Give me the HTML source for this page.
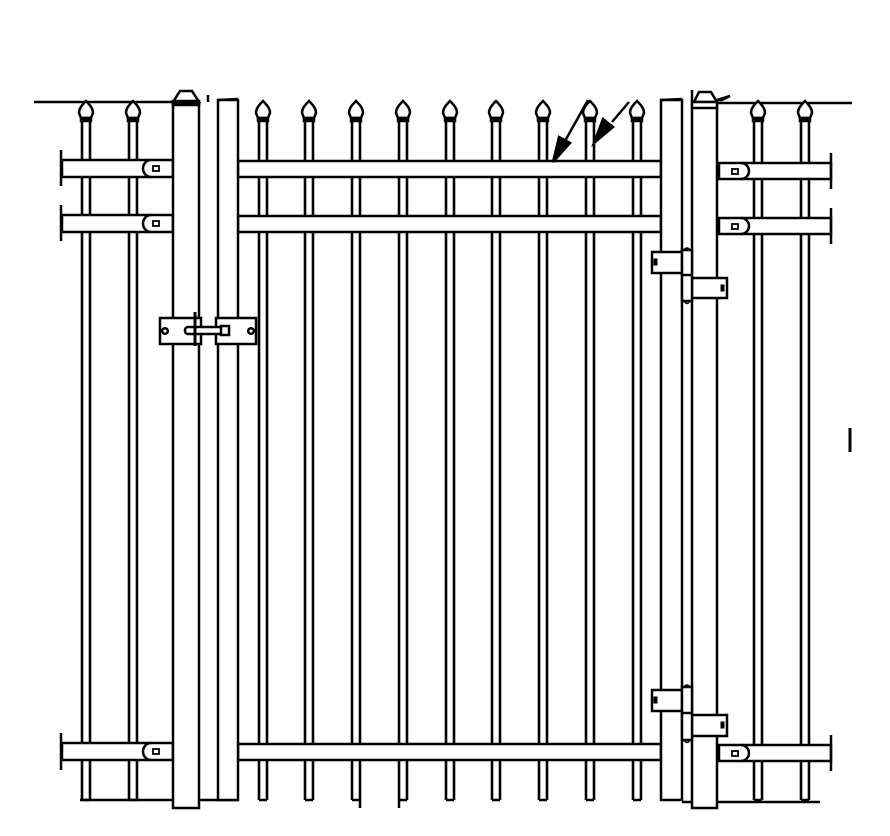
<!DOCTYPE html>
<html><head><meta charset="utf-8"><style>html,body{margin:0;padding:0;background:#fff}svg{display:block}</style></head>
<body>
<svg width="890" height="836" viewBox="0 0 890 836" xmlns="http://www.w3.org/2000/svg" fill="none" stroke="#000" stroke-width="2.5">
<defs>
<g id="pk"><line x1="-4" y1="120" x2="-4" y2="800" stroke-width="2.6"/><line x1="4" y1="120" x2="4" y2="800" stroke-width="2.6"/><line x1="-4" y1="800" x2="4" y2="800"/>
<path d="M0,101 C-5,106 -7,109 -7,113 L-5,118 L5,118 L7,113 C7,109 5,106 0,101 Z" fill="#fff"/><rect x="-5" y="118" width="10" height="3" fill="#000"/></g>
</defs>
<line x1="34" y1="102" x2="175" y2="102"/>
<line x1="717" y1="103" x2="852" y2="103"/>
<use href="#pk" x="86"/><use href="#pk" x="133"/>
<use href="#pk" x="263"/><use href="#pk" x="309"/><use href="#pk" x="356"/><use href="#pk" x="403"/><use href="#pk" x="450"/><use href="#pk" x="496"/><use href="#pk" x="543"/><use href="#pk" x="590"/><use href="#pk" x="637"/>
<use href="#pk" x="758"/><use href="#pk" x="805"/>
<line x1="80" y1="800" x2="238" y2="800"/>
<line x1="682" y1="802" x2="820" y2="802"/>
<line x1="360" y1="800" x2="360" y2="808"/><line x1="399" y1="800" x2="399" y2="808"/>
<g fill="#fff">
<rect x="62" y="160" width="111" height="17"/><rect x="62" y="215" width="111" height="17"/><rect x="62" y="743" width="111" height="17"/>
<rect x="238" y="161" width="423" height="16"/><rect x="238" y="216" width="423" height="16"/><rect x="238" y="744" width="423" height="16"/>
<rect x="719" y="163" width="112" height="16"/><rect x="719" y="218" width="112" height="16"/><rect x="719" y="745" width="112" height="16"/>
</g>
<g>
<line x1="61" y1="150" x2="61" y2="186"/><line x1="61" y1="205" x2="61" y2="241"/><line x1="61" y1="733" x2="61" y2="770"/>
<line x1="831" y1="153" x2="831" y2="189"/><line x1="831" y1="208" x2="831" y2="244"/><line x1="831" y1="735" x2="831" y2="771"/>
<path d="M151,160 A8,8.5 0 0 0 151,177"/><path d="M151,215 A8,8.5 0 0 0 151,232"/><path d="M151,743 A8,8.5 0 0 0 151,760"/>
<rect x="153" y="166" width="6" height="5" stroke-width="1.8"/><rect x="153" y="221" width="6" height="5" stroke-width="1.8"/><rect x="153" y="749" width="6" height="5" stroke-width="1.8"/>
<path d="M741,163 A8,8 0 0 1 741,179"/><path d="M741,218 A8,8 0 0 1 741,234"/><path d="M741,745 A8,8 0 0 1 741,761"/>
<rect x="732" y="169" width="6" height="5" stroke-width="1.8"/><rect x="732" y="224" width="6" height="5" stroke-width="1.8"/><rect x="732" y="751" width="6" height="5" stroke-width="1.8"/>
</g>
<rect x="173" y="104" width="26" height="704" fill="#fff"/>
<path d="M180,91 L192,91 L199,102 L173,102 Z" fill="#fff"/>
<rect x="173" y="101" width="26" height="4" fill="#000"/>
<rect x="218" y="100" width="20" height="700" fill="#fff"/>
<line x1="208" y1="95" x2="208" y2="102"/>
<line x1="218" y1="100" x2="238" y2="99"/>
<rect x="160" y="318" width="41" height="26" fill="#fff"/>
<rect x="216" y="318" width="40" height="26" fill="#fff"/>
<circle cx="165" cy="331" r="2.8"/><circle cx="251" cy="331" r="2.8"/>
<rect x="185" y="327" width="44" height="7" rx="3" fill="#fff"/>
<line x1="195" y1="312" x2="195" y2="346" stroke-width="3"/>
<rect x="221" y="326" width="8" height="9" fill="#fff"/>
<rect x="661" y="100" width="21" height="700" fill="#fff"/>
<line x1="661" y1="100" x2="682" y2="99"/>
<rect x="692" y="105" width="25" height="703" fill="#fff"/>
<line x1="692" y1="90" x2="692" y2="105"/>
<path d="M699,92 L711,92 L717,102 L694,102 Z" fill="#fff"/>
<rect x="692" y="102" width="25" height="6" fill="#fff"/>
<path d="M717,100 L730,96 L722,100 Z" fill="#000"/>
<g fill="#fff">
<rect x="652" y="252" width="30" height="21"/><rect x="692" y="278" width="35" height="20"/>
<rect x="682" y="250" width="10" height="51"/>
<rect x="652" y="690" width="30" height="21"/><rect x="692" y="715" width="35" height="21"/>
<rect x="682" y="687" width="10" height="53"/>
</g>
<line x1="682" y1="275" x2="692" y2="275"/><line x1="682" y1="713" x2="692" y2="713"/>
<rect x="654" y="259" width="3" height="6" fill="#000" stroke-width="1"/><rect x="721" y="285" width="3" height="6" fill="#000" stroke-width="1"/>
<rect x="654" y="697" width="3" height="6" fill="#000" stroke-width="1"/><rect x="721" y="722" width="3" height="6" fill="#000" stroke-width="1"/>
<path d="M684,301 Q687,306 690,301" stroke-width="1.5"/><path d="M684,740 Q687,745 690,740" stroke-width="1.5"/>
<path d="M684,250 Q687,246 690,250" stroke-width="1.5"/><path d="M684,687 Q687,683 690,687" stroke-width="1.5"/>
<line x1="588" y1="100" x2="565" y2="141"/>
<path d="M553,162 L559,137 L570,143 Z" fill="#000"/>
<line x1="629" y1="102" x2="612" y2="122"/>
<path d="M594,143 L603,119 L613,127 Z" fill="#000"/>
<line x1="850" y1="428" x2="850" y2="452" stroke-width="3"/>
</svg>
</body></html>
